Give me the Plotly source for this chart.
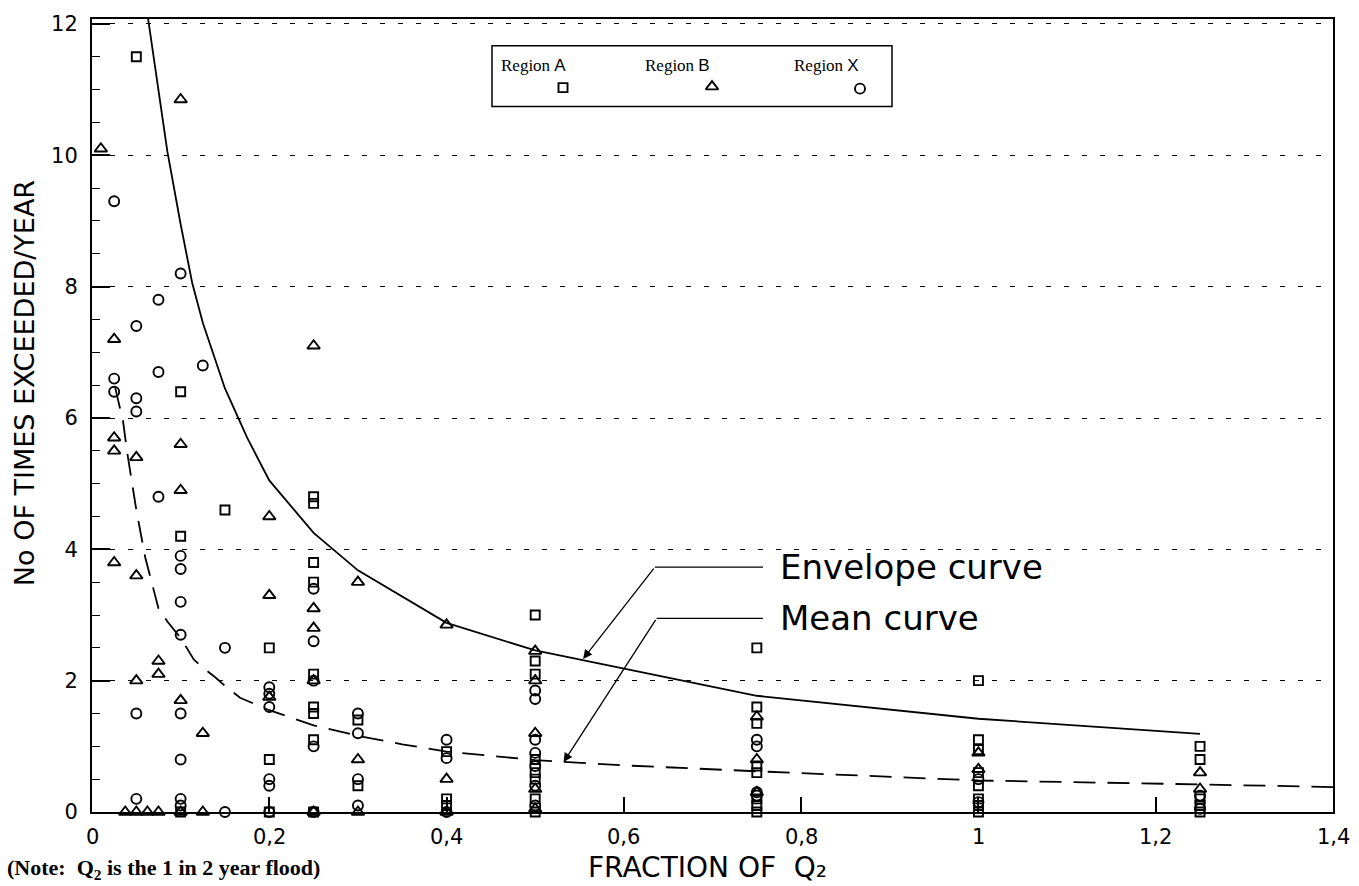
import plotly.graph_objects as go

# ---------------- data ----------------
# Region A (squares)
a_x = [0.05,
       0.1, 0.1, 0.1,
       0.15,
       0.2, 0.2, 0.2,
       0.25, 0.25, 0.25, 0.25, 0.25, 0.25, 0.25, 0.25, 0.25,
       0.3, 0.3,
       0.4, 0.4, 0.4,
       0.5, 0.5, 0.5, 0.5, 0.5, 0.5, 0.5, 0.5,
       0.75, 0.75, 0.75, 0.75, 0.75, 0.75, 0.75, 0.75,
       1.0, 1.0, 1.0, 1.0, 1.0, 1.0, 1.0, 1.0,
       1.25, 1.25, 1.25, 1.25, 1.25]
a_y = [11.5,
       6.4, 4.2, 0,
       4.6,
       2.5, 0.8, 0,
       4.8, 4.7, 3.8, 3.5, 2.1, 1.6, 1.5, 1.1, 0,
       1.4, 0.4,
       0.92, 0.2, 0.1,
       3.0, 2.3, 2.1, 0.8, 0.6, 0.5, 0.2, 0,
       2.5, 1.6, 1.35, 0.7, 0.6, 0.2, 0.1, 0,
       2.0, 1.1, 0.95, 0.6, 0.4, 0.2, 0.1, 0,
       1.0, 0.8, 0.2, 0.1, 0]

# Region B (triangles)
b_x = [0.01,
       0.025, 0.025, 0.025, 0.025,
       0.0375,
       0.05, 0.05, 0.05, 0.05,
       0.0625,
       0.075, 0.075, 0.075,
       0.1, 0.1, 0.1, 0.1, 0.1,
       0.125, 0.125,
       0.2, 0.2, 0.2,
       0.25, 0.25, 0.25, 0.25, 0.25,
       0.3, 0.3, 0.3,
       0.4, 0.4, 0.4,
       0.5, 0.5, 0.5, 0.5, 0.5,
       0.75, 0.75, 0.75,
       1.0, 1.0,
       1.25, 1.25]
b_y = [10.1,
       7.2, 5.7, 5.5, 3.8,
       0,
       5.4, 3.6, 2.0, 0,
       0,
       2.3, 2.1, 0,
       10.85, 5.6, 4.9, 1.7, 0,
       1.2, 0,
       4.5, 3.3, 1.75,
       7.1, 3.1, 2.8, 2.0, 0,
       3.5, 0.8, 0,
       2.85, 0.5, 0,
       2.45, 2.0, 1.2, 0.35, 0.05,
       1.45, 0.8, 0.3,
       0.9, 0.65,
       0.6, 0.35]

# Region X (circles)
x_x = [0.025, 0.025, 0.025,
       0.05, 0.05, 0.05, 0.05, 0.05,
       0.075, 0.075, 0.075,
       0.1, 0.1, 0.1, 0.1, 0.1, 0.1, 0.1, 0.1, 0.1,
       0.125,
       0.15, 0.15,
       0.2, 0.2, 0.2, 0.2, 0.2, 0.2,
       0.25, 0.25, 0.25, 0.25, 0.25,
       0.3, 0.3, 0.3, 0.3,
       0.4, 0.4, 0.4,
       0.5, 0.5, 0.5, 0.5, 0.5, 0.5, 0.5,
       0.75, 0.75, 0.75, 0.75,
       1.0, 1.0,
       1.25, 1.25]
x_y = [9.3, 6.6, 6.4,
       7.4, 6.3, 6.1, 1.5, 0.2,
       7.8, 6.7, 4.8,
       8.2, 3.9, 3.7, 3.2, 2.7, 1.5, 0.8, 0.2, 0.1,
       6.8,
       2.5, 0,
       1.9, 1.8, 1.6, 0.5, 0.4, 0,
       3.4, 2.6, 2.0, 1.0, 0,
       1.5, 1.2, 0.5, 0.1,
       1.1, 0.82, 0,
       1.85, 1.72, 1.1, 0.9, 0.7, 0.4, 0.1,
       1.1, 1.0, 0.3, 0.25,
       0.5, 0.15,
       0.25, 0.05]

# Envelope curve (solid)
env_x = [0.062, 0.07, 0.077, 0.085, 0.1, 0.113, 0.125, 0.15, 0.175, 0.2,
         0.25, 0.3, 0.4, 0.5, 0.75, 1.0, 1.25]
env_y = [12.2, 11.45, 10.74, 10.06, 8.95, 8.06, 7.45, 6.45, 5.7, 5.05,
         4.25, 3.68, 2.88, 2.46, 1.77, 1.42, 1.19]

# Mean curve (dashed)
mean_x = [0.026, 0.035, 0.04, 0.045, 0.05, 0.06, 0.07, 0.075, 0.085, 0.1,
          0.115, 0.125, 0.14, 0.15, 0.167, 0.2, 0.25, 0.3, 0.35, 0.4,
          0.5, 0.6, 0.75, 1.0, 1.25, 1.4]
mean_y = [6.47, 5.95, 5.45, 5.0, 4.6, 3.88, 3.35, 3.1, 2.9, 2.65,
          2.32, 2.2, 2.04, 1.92, 1.74, 1.55, 1.32, 1.16, 1.03, 0.92,
          0.79, 0.71, 0.62, 0.48, 0.42, 0.38]

x_tickvals = [0, 0.2, 0.4, 0.6, 0.8, 1.0, 1.2, 1.4]
x_ticktext = ["0", "0,2", "0,4", "0,6", "0,8", "1", "1,2", "1,4"]
y_tickvals = [0, 2, 4, 6, 8, 10, 12]
y_ticktext = ["0", "2", "4", "6", "8", "10", "12"]

region_names = ["A", "B", "X"]
region_symbols = ["square-open", "triangle-up-open", "circle-open"]
region_sizes = [9, 11, 10]

# ---------------- figure ----------------
W, H = 1359, 886
L, R, T, B = 92, 26, 15, 74
SANS = "DejaVu Sans"
SERIF = "Liberation Serif"
MLW = 1.9

fig = go.Figure()

fig.add_trace(go.Scatter(x=env_x, y=env_y, mode="lines",
                         line=dict(color="black", width=1.8),
                         showlegend=False, hoverinfo="skip"))
fig.add_trace(go.Scatter(x=mean_x, y=mean_y, mode="lines",
                         line=dict(color="black", width=1.8, dash="22px,12px"),
                         showlegend=False, hoverinfo="skip"))

for xs, ys, sym, sz in zip([a_x, b_x, x_x], [a_y, b_y, x_y],
                           region_symbols, region_sizes):
    fig.add_trace(go.Scatter(x=xs, y=ys, mode="markers", cliponaxis=False,
                             marker=dict(symbol=sym, size=sz, color="black",
                                         line=dict(color="black", width=MLW)),
                             showlegend=False))

# legend markers drawn on a hidden pixel-based overlay axis
leg_px = [563, 712, 860]
leg_py = [84, 83, 85]
for i in range(3):
    fig.add_trace(go.Scatter(x=[leg_px[i]], y=[leg_py[i]], mode="markers",
                             xaxis="x2", yaxis="y2", cliponaxis=False,
                             marker=dict(symbol=region_symbols[i], size=region_sizes[i],
                                         color="black",
                                         line=dict(color="black", width=MLW)),
                             showlegend=False, hoverinfo="skip"))

pw = W - L - R
ph = H - T - B
def px2paper_x(px):
    return (px - L) / pw
def py2paper_y(py):
    return (H - B - py) / ph

annotations = []
shapes = []

# x tick labels (placed explicitly below the axis)
for tv, tt in zip(x_tickvals, x_ticktext):
    annotations.append(dict(xref="x", yref="paper", x=tv, y=py2paper_y(837),
                            xanchor="center", yanchor="middle", showarrow=False,
                            text=tt, font=dict(family=SANS, size=21, color="black")))

# legend box and texts
shapes.append(dict(type="rect", xref="paper", yref="paper",
                   x0=px2paper_x(492), x1=px2paper_x(892),
                   y0=py2paper_y(103), y1=py2paper_y(42),
                   line=dict(color="black", width=1.5)))
for i, lx in enumerate([499, 643, 792]):
    annotations.append(dict(
        xref="paper", yref="paper", x=px2paper_x(lx), y=py2paper_y(62),
        xanchor="left", yanchor="middle", showarrow=False,
        text="Region <span style='font-family:Liberation Sans'>%s</span>" % region_names[i],
        font=dict(family=SERIF, size=17, color="black")))

# curve labels with arrows
labels = [("Envelope curve", 3.73, 0.635, 0.554, 2.33),
          ("Mean curve", 2.95, 0.637, 0.532, 0.76)]
for txt, ly, bx, tx, ty in labels:
    shapes.append(dict(type="line", xref="x", yref="y", x0=bx, x1=0.757,
                       y0=ly, y1=ly, line=dict(color="black", width=1.3)))
    annotations.append(dict(xref="x", yref="y", x=tx, y=ty,
                            axref="x", ayref="y", ax=bx, ay=ly, text="",
                            showarrow=True, arrowhead=2, arrowsize=1.4,
                            arrowwidth=1.3, arrowcolor="black"))
    annotations.append(dict(xref="x", yref="y", x=0.774, y=ly,
                            xanchor="left", yanchor="middle", showarrow=False,
                            text=txt, font=dict(family=SANS, size=34, color="black")))

# axis titles and note
annotations.append(dict(xref="paper", yref="paper", x=px2paper_x(24), y=py2paper_y(381),
                        xanchor="center", yanchor="middle", textangle=-90, showarrow=False,
                        text="No OF TIMES EXCEEDED/YEAR",
                        font=dict(family=SANS, size=27, color="black")))
annotations.append(dict(xref="paper", yref="paper", x=px2paper_x(707), y=py2paper_y(868),
                        xanchor="center", yanchor="middle", showarrow=False,
                        text="FRACTION OF\u00a0 Q\u2082",
                        font=dict(family=SANS, size=28, color="black")))
annotations.append(dict(xref="paper", yref="paper", x=px2paper_x(5), y=py2paper_y(869),
                        xanchor="left", yanchor="middle", showarrow=False,
                        text="<b>(Note:\u00a0 Q<sub>2</sub> is the 1 in 2 year flood)</b>",
                        font=dict(family=SERIF, size=22, color="black")))

fig.update_layout(
    width=W, height=H, autosize=False,
    margin=dict(l=L, r=R, t=T, b=B, pad=0),
    paper_bgcolor="white", plot_bgcolor="white",
    font=dict(family=SANS, color="black"),
    xaxis=dict(range=[0, 1.4], tickvals=x_tickvals, showticklabels=False,
               showgrid=False, zeroline=False,
               showline=True, mirror=True, linecolor="black", linewidth=2,
               ticks="inside", ticklen=15, tickwidth=1.5, tickcolor="black"),
    yaxis=dict(range=[0, 12.076], tickvals=y_tickvals, ticktext=y_ticktext,
               showgrid=True, gridcolor="black", gridwidth=1.4, griddash="5px,13px",
               zeroline=False,
               showline=True, mirror=True, linecolor="black", linewidth=2,
               ticks="inside", ticklen=18, tickwidth=1.5, tickcolor="black",
               ticklabelstandoff=8,
               minor=dict(dtick=0.5, ticks="inside", ticklen=8, tickwidth=1.3,
                          tickcolor="black", showgrid=False),
               tickfont=dict(family=SANS, size=21, color="black")),
    xaxis2=dict(overlaying="x", range=[L, W - R], visible=False),
    yaxis2=dict(overlaying="y", range=[H - B, T], visible=False),
    annotations=annotations,
    shapes=shapes,
)

fig.write_html("out.html", config={"displayModeBar": False},
               post_script="document.body.style.margin='0';document.body.style.overflow='hidden';")
